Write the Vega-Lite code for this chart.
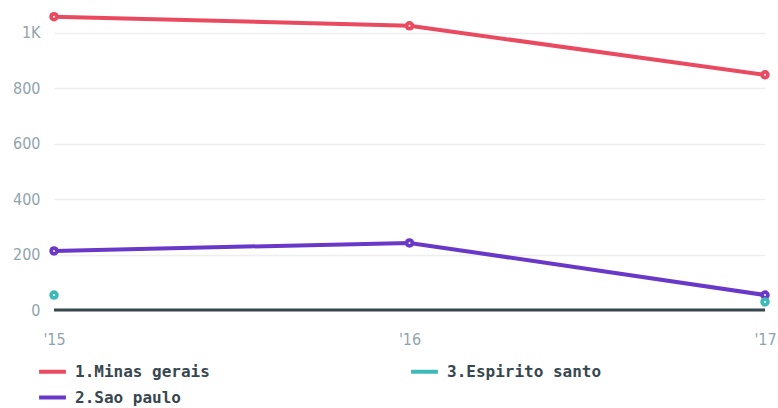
{
  "$schema": "https://vega.github.io/schema/vega-lite/v6.json",
  "autosize": {"type": "fit", "contains": "padding"},
  "width": 778,
  "height": 408,
  "padding": {"left": 12, "right": 1, "top": 0, "bottom": 61},
  "background": "white",
  "config": {
    "view": {"stroke": null},
    "axis": {"labelFont": "DejaVu Sans Condensed", "labelFontSize": 16, "labelColor": "#90a4ae"}
  },
  "data": {
    "values": [
      {"year": 2015, "state": "1.Minas gerais", "value": 1058},
      {"year": 2016, "state": "1.Minas gerais", "value": 1025},
      {"year": 2017, "state": "1.Minas gerais", "value": 848},
      {"year": 2015, "state": "2.Sao paulo", "value": 213},
      {"year": 2016, "state": "2.Sao paulo", "value": 242},
      {"year": 2017, "state": "2.Sao paulo", "value": 54},
      {"year": 2015, "state": "3.Espirito santo", "value": 54},
      {"year": 2017, "state": "3.Espirito santo", "value": 29}
    ]
  },
  "encoding": {
    "x": {
      "field": "year", "type": "quantitative",
      "scale": {"domain": [2015, 2017], "nice": false, "zero": false},
      "axis": {"values": [2015, 2016, 2017], "labelExpr": "\"'\" + substring(toString(datum.value), 2)", "title": null, "grid": false, "domain": false, "ticks": false, "labelPadding": 21, "labelFlush": false}
    },
    "y": {
      "field": "value", "type": "quantitative",
      "scale": {"domain": [0, 1118], "nice": false},
      "axis": {"values": [0, 200, 400, 600, 800, 1000], "labelExpr": "datum.value >= 1000 ? (datum.value / 1000) + 'K' : datum.label", "title": null, "domain": false, "ticks": false, "labelPadding": 14, "gridColor": "#eeeeee", "gridWidth": 1.5}
    },
    "color": {
      "field": "state", "type": "nominal",
      "scale": {"domain": ["1.Minas gerais", "3.Espirito santo", "2.Sao paulo"], "range": ["#ea4a60", "#3dbab8", "#6a38c8"]},
      "legend": {"orient": "none", "legendX": -17, "legendY": 356, "direction": "horizontal", "columns": 2, "title": null, "symbolType": "stroke", "symbolStrokeWidth": 4, "symbolSize": 720, "labelFont": "DejaVu Sans Mono", "labelFontWeight": "bold", "labelFontSize": 16, "labelColor": "#37474f", "columnPadding": 193, "rowPadding": 2, "labelOffset": 7}
    }
  },
  "layer": [
    {
      "mark": {"type": "rule", "color": "#37474f", "strokeWidth": 3},
      "data": {"values": [{"z": 0}]},
      "encoding": {"y": {"field": "z", "type": "quantitative"}, "x": null, "color": null}
    },
    {"mark": {"type": "line", "strokeWidth": 4}, "transform": [{"filter": "datum.state != '3.Espirito santo'"}]},
    {"mark": {"type": "point", "filled": true, "size": 90, "opacity": 1}},
    {"mark": {"type": "point", "filled": true, "size": 4, "color": "white", "opacity": 1}, "encoding": {"color": null}}
  ]
}
